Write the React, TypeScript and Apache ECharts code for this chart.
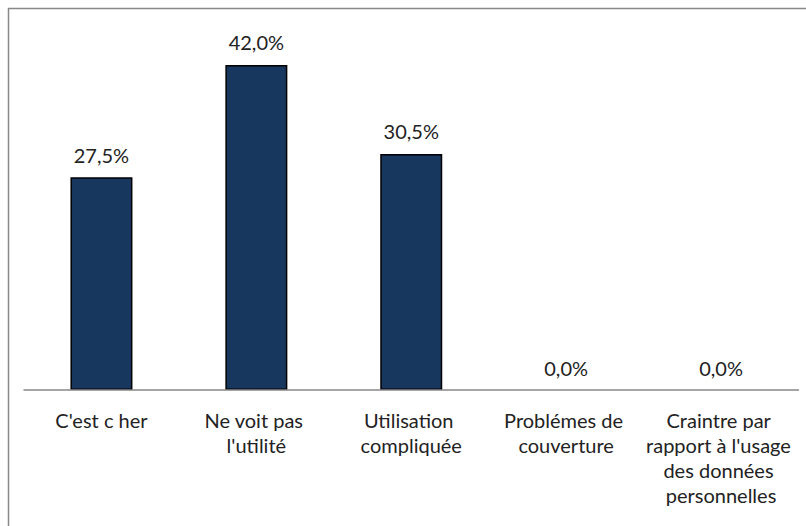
import React, { useEffect, useRef } from "react";
import * as echarts from "echarts";

const categories: string[] = [
  "C'est c her",
  "Ne voit pas l'utilité",
  "Utilisation compliquée",
  "Problémes de couverture",
  "Craintre par rapport à l'usage des données personnelles",
];
const values: number[] = [27.5, 42.0, 30.5, 0.0, 0.0];

const FONT = "Lato";

export default function App() {
  const ref = useRef<HTMLDivElement>(null);
  useEffect(() => {
    if (!ref.current) return;
    const chart = echarts.init(ref.current, null, { renderer: "svg" });
    chart.setOption({
      animation: false,
      backgroundColor: "#ffffff",
      graphic: [
        {
          type: "rect",
          shape: { x: 8.5, y: 8.5, width: 900, height: 900 },
          style: { fill: "none", stroke: "#888888", lineWidth: 1.5 },
          silent: true,
        },
      ],
      grid: { left: 24, right: 7, top: 3, bottom: 136, containLabel: false },
      xAxis: {
        type: "category",
        data: categories,
        z: 5,
        axisLine: { show: true, lineStyle: { color: "#888888", width: 1.5 } },
        axisTick: { show: false },
        axisLabel: {
          interval: 0,
          color: "#222222",
          fontFamily: FONT,
          fontSize: 20,
          lineHeight: 25,
          margin: 17,
          width: 164,
          overflow: "break",
        },
      },
      yAxis: {
        type: "value",
        min: 0,
        max: 50,
        show: false,
        splitLine: { show: false },
      },
      series: [
        {
          type: "bar",
          data: values.map((v) => ({
            value: v,
            itemStyle: v === 0 ? { borderWidth: 0 } : undefined,
          })),
          barWidth: 62,
          z: 2,
          itemStyle: { color: "#17375E", borderColor: "#000000", borderWidth: 1.5 },
          label: {
            show: true,
            position: "top",
            distance: 12,
            color: "#222222",
            fontFamily: FONT,
            fontSize: 20,
            lineHeight: 21,
            formatter: (p: any) => p.value.toFixed(1).replace(".", ",") + "%",
          },
        },
      ],
    });
    return () => chart.dispose();
  }, []);
  return (
    <div
      ref={ref}
      style={{ position: "fixed", left: 0, top: 0, width: 806, height: 526 }}
    />
  );
}
